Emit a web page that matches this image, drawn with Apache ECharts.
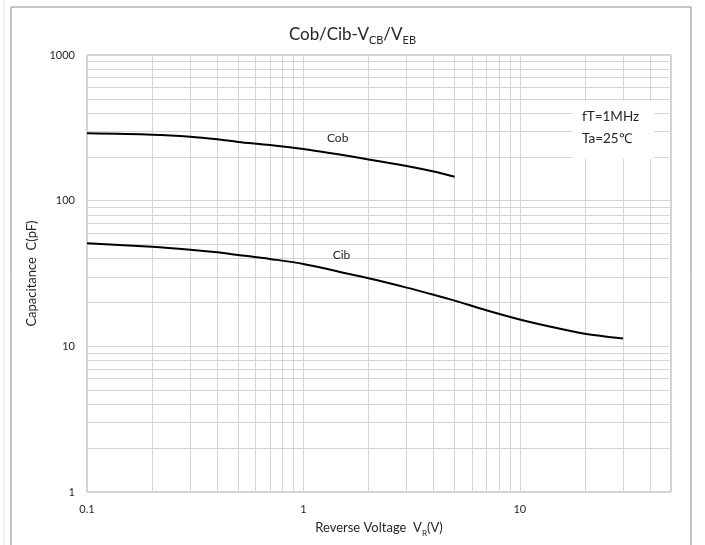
<!DOCTYPE html>
<html>
<head>
<meta charset="utf-8">
<script src="https://cdn.jsdelivr.net/npm/echarts@6/dist/echarts.min.js"></script>
<style>
html,body{margin:0;padding:0;background:#fff;}
#chart{width:705px;height:545px;}
</style>
</head>
<body>
<div id="chart"></div>
<script>
// ---- data ----
const cobVoltage = [0.1, 0.2, 0.3, 0.4, 0.5, 0.7, 1, 2, 3, 4, 5];
const cobCapacitance = [290, 284, 275, 264, 253, 241, 226, 192, 173, 158.5, 146];
const cibVoltage = [0.1, 0.2, 0.3, 0.4, 0.5, 0.7, 1, 2, 3, 4, 5, 7, 10, 15, 20, 30];
const cibCapacitance = [51, 48.3, 46.1, 44.2, 42.4, 39.8, 36.8, 29.3, 25.3, 22.6, 20.6, 17.7, 15.3, 13.3, 12.2, 11.3];
const xTickLabels = ['0.1', '1', '10'];
const yTickLabels = ['1', '10', '100', '1000'];
const xMinorGrid = [0.2,0.3,0.4,0.5,0.6,0.7,0.8,0.9,2,3,4,5,6,7,8,9,20,30,40];
const yMinorGrid = [2,3,4,5,6,7,8,9,20,30,40,50,60,70,80,90,200,300,400,500,600,700,800,900];
const curveLabels = [{name:'Cob', x:1.44, y:269}, {name:'Cib', x:1.50, y:42.4}];
const noteLines = ['fT=1MHz', 'Ta=25\u2103'];

const FONT = 'Lato, "Open Sans", sans-serif';
const TXT = '#262626';
const GRID = '#d4d4d4';

function pairs(xs, ys){ return xs.map((x,i)=>[x, ys[i]]); }
function fmt(list){ return v => { const s = list.find(t => Math.abs(Math.log10(+t) - Math.log10(v)) < 1e-6); return s || ''; }; }

const chart = echarts.init(document.getElementById('chart'), null, {renderer:'canvas'});
const minorLines = xMinorGrid.map(v=>({xAxis:v})).concat(yMinorGrid.map(v=>({yAxis:v})));

chart.setOption({
  animation:false,
  backgroundColor:'#fff',
  title:{
    text:'{a|Cob/Cib-V}{s|CB}{a|/V}{s|EB}',
    left:'center', top:21,
    textStyle:{
      fontWeight:'normal',
      rich:{
        a:{fontFamily:FONT, fontSize:17, fontWeight:'normal', color:TXT, lineHeight:20, verticalAlign:'top'},
        s:{fontFamily:FONT, fontSize:11, fontWeight:'normal', color:TXT, lineHeight:10, verticalAlign:'bottom'}
      }
    }
  },
  grid:{left:87, right:34, top:55, bottom:53, show:true, borderColor:'#a6a6a6', borderWidth:1, backgroundColor:'transparent'},
  xAxis:{
    type:'log', logBase:10, min:0.1, max:50,
    name:'{a|Reverse Voltage  V}{s|R}{a|(V)}',
    nameLocation:'middle', nameGap:29,
    nameTextStyle:{rich:{
      a:{fontFamily:FONT, fontSize:13, color:TXT, lineHeight:16, verticalAlign:'top'},
      s:{fontFamily:FONT, fontSize:8, color:TXT, lineHeight:8, verticalAlign:'bottom'}
    }},
    axisLine:{show:false}, axisTick:{show:false},
    axisLabel:{fontFamily:FONT, fontSize:11, color:TXT, margin:12, formatter:fmt(xTickLabels), showMaxLabel:false},
    splitLine:{show:true, lineStyle:{color:GRID, width:1}}
  },
  yAxis:{
    type:'log', logBase:10, min:1, max:1000,
    name:'Capacitance  C(pF)',
    nameLocation:'middle', nameGap:45,
    nameTextStyle:{fontFamily:FONT, fontSize:13, color:TXT},
    axisLine:{show:false}, axisTick:{show:false},
    axisLabel:{fontFamily:FONT, fontSize:11, color:TXT, margin:12, formatter:fmt(yTickLabels)},
    splitLine:{show:true, lineStyle:{color:GRID, width:1}}
  },
  series:[
    {
      type:'line', data:[], silent:true,
      markLine:{silent:true, symbol:['none','none'], label:{show:false},
        lineStyle:{color:GRID, width:1, type:'solid'}, data:minorLines, animation:false}
    },
    {
      name:'Cob', type:'line', smooth:0.3, showSymbol:false, z:5,
      data:pairs(cobVoltage, cobCapacitance),
      lineStyle:{color:'#000', width:2}
    },
    {
      name:'Cib', type:'line', smooth:0.3, showSymbol:false, z:5,
      data:pairs(cibVoltage, cibCapacitance),
      lineStyle:{color:'#000', width:2},
      markPoint:{
        symbol:'circle', symbolSize:1, itemStyle:{color:'transparent'},
        label:{show:true, position:'inside', fontFamily:FONT, fontSize:12, color:TXT, formatter:p=>p.name},
        data:curveLabels.map(c=>({name:c.name, coord:[c.x, c.y]}))
      }
    }
  ],
  graphic:[
    {type:'rect', shape:{x:11, y:7, width:680, height:560}, style:{fill:'none', stroke:'#8c8c8c', lineWidth:1}, silent:true, z:-1},
    {type:'line', shape:{x1:4, y1:0, x2:4, y2:545}, style:{stroke:'#e0e0e0', lineWidth:1}, silent:true},
    {type:'rect', shape:{x:572, y:101, width:82, height:58}, style:{fill:'#fff'}, z:10, silent:true},
    {type:'text', left:582, top:110, style:{text:noteLines[0], fontFamily:FONT, fontSize:13.5, fill:TXT}, z:11},
    {type:'text', left:582, top:132, style:{text:noteLines[1], fontFamily:FONT, fontSize:13.5, fill:TXT}, z:11}
  ]
});
</script>
</body>
</html>
